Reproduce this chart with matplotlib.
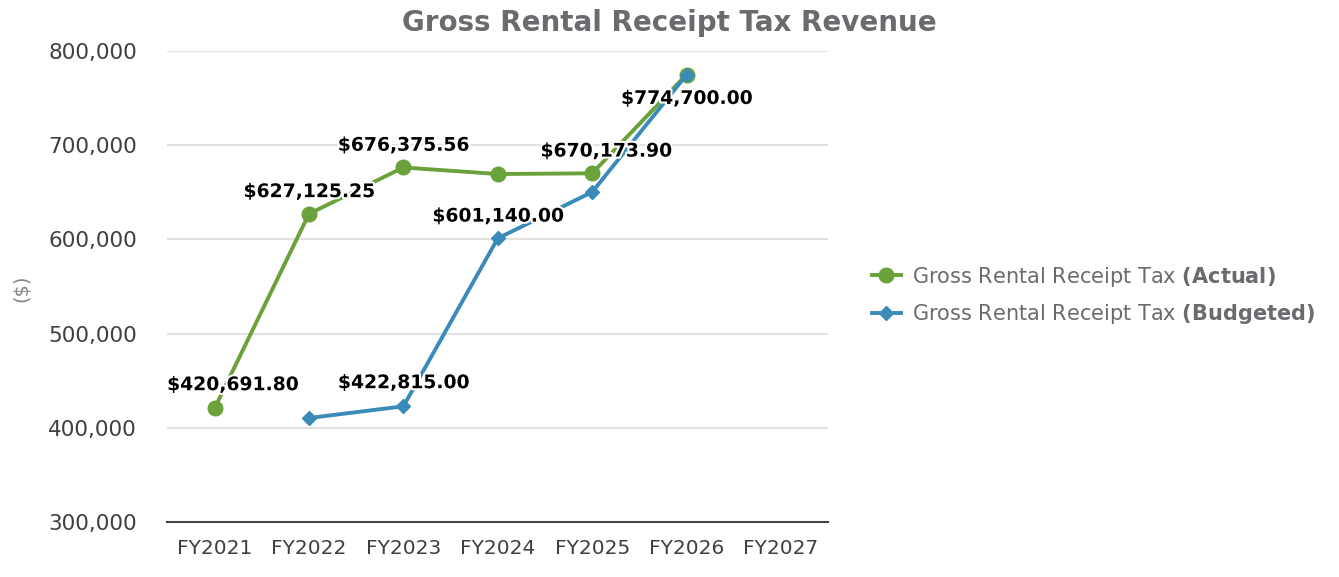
import numpy as np
import matplotlib
matplotlib.use("Agg")
import matplotlib.pyplot as plt
import matplotlib.patheffects as pe

plt.rcParams['font.family'] = ['DejaVu Sans']
plt.rcParams['mathtext.fontset'] = 'custom'
plt.rcParams['mathtext.bf'] = 'DejaVu Sans:bold'

years = ['FY2021', 'FY2022', 'FY2023', 'FY2024', 'FY2025', 'FY2026', 'FY2027']
actual = [420691.80, 627125.25, 676375.56, 669400, 670173.90, 775000, None]
budgeted = [None, 410400, 422815.00, 601140.00, 650300, 774700.00, None]

# which points carry a value label, and label offset (points)
actual_labels = {0: (13, 17), 1: (0, 16), 2: (0, 16), 4: (10, 16)}
budget_labels = {2: (0, 17), 3: (0, 16), 5: (0, -17)}

green = '#6aa13a'
blue = '#3b8bba'
grey = '#696b6e'

x = np.arange(len(years))
a = np.array([np.nan if v is None else v for v in actual], dtype=float)
b = np.array([np.nan if v is None else v for v in budgeted], dtype=float)

fig = plt.figure(figsize=(13.39, 5.77), dpi=100)
ax = fig.add_axes([0.125, 0.0953, 0.4935, 0.8163])

ax.plot(x, a, color=green, lw=2.8, marker='o', ms=10.5, zorder=3,
        label=r'Gross Rental Receipt Tax $\bf{(Actual)}$')
ax.plot(x, b, color=blue, lw=2.8, marker='D', ms=7.5, zorder=4,
        label=r'Gross Rental Receipt Tax $\bf{(Budgeted)}$')

halo = [pe.withStroke(linewidth=3, foreground='white')]
for series, labels in [(a, actual_labels), (b, budget_labels)]:
    for i, off in labels.items():
        ax.annotate(f'${series[i]:,.2f}', (x[i], series[i]), xytext=off,
                    textcoords='offset points', ha='center', va='center',
                    fontsize=13.5, fontweight='bold', color='black',
                    path_effects=halo, zorder=5)

ax.set_xlim(-0.5, 6.5)
ax.set_ylim(300000, 800000)
ax.set_xticks(x, years)
ax.set_yticks(np.arange(300000, 800001, 100000))
ax.yaxis.set_major_formatter(matplotlib.ticker.FuncFormatter(lambda v, p: f'{v:,.0f}'))
ax.tick_params(length=0, labelsize=14.5, labelcolor='#3f3f3f', pad=12)
ax.tick_params(axis='y', labelsize=15.5, pad=22)
ax.grid(axis='y', color='#e2e2e2', lw=1.5)
ax.set_axisbelow(True)
for s in ['top', 'right', 'left']:
    ax.spines[s].set_visible(False)
ax.spines['bottom'].set_color('#444444')
ax.spines['bottom'].set_linewidth(1.5)

fig.text(0.016, 0.5, '($)', rotation=90, va='center', ha='center',
         fontsize=14, color='#888888')
fig.text(0.5, 0.96, 'Gross Rental Receipt Tax Revenue', ha='center', va='center',
         fontsize=20, fontweight='bold', color=grey)

leg = fig.legend(loc='center left', bbox_to_anchor=(0.637, 0.488), frameon=False,
                 fontsize=15, handlelength=1.4, handletextpad=0.55, labelspacing=0.65)
for t in leg.get_texts():
    t.set_color(grey)

fig.savefig('out.png', dpi=100)
